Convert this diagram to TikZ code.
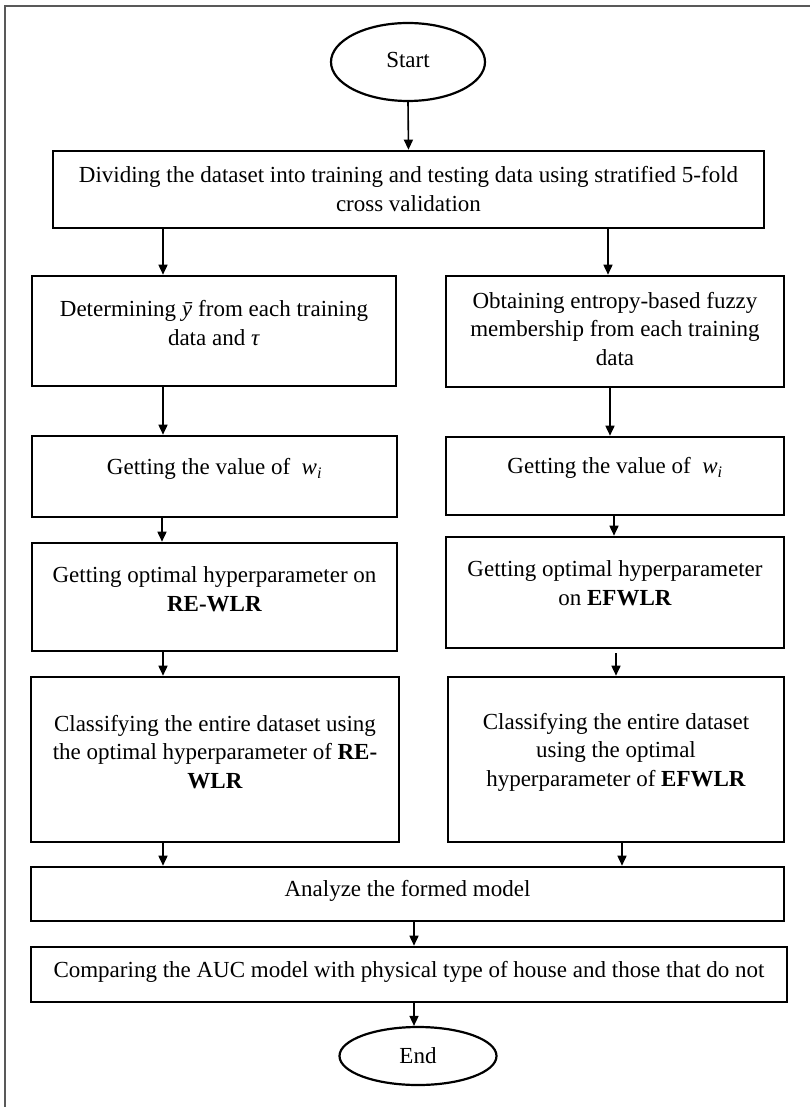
\documentclass[tikz,border=0pt]{standalone}
\usepackage{fontspec}
\setmainfont{Liberation Serif}
\usetikzlibrary{arrows.meta,shapes.geometric}
\tikzset{
  box/.style={draw=black, line width=2.6pt, inner sep=0pt},
  oval/.style={draw=black, ellipse, line width=2.2pt, inner sep=0pt},
  txt/.style={align=center, inner sep=0pt, font=\fontsize{23}{28.5}\selectfont},
  arr/.style={line width=1.6pt, -{Triangle[length=10pt,width=9pt]}},
  frameline/.style={draw=black!65, line width=1.6pt}
}
\newcommand{\ybar}{\textit{ȳ}}
\newcommand{\wi}{\textit{w}\textsubscript{\textit{i}}}
\begin{document}
\begin{tikzpicture}[x=1pt,y=-1pt]
\useasboundingbox (0,0) rectangle (810,1107);
\fill[white] (0,0) rectangle (810,1107);
\draw[frameline] (810,6) -- (5,6) -- (5,1107);

% Start / End
\node[oval, minimum width=154pt, minimum height=78pt] (start) at (408,62) {};
\node[txt] (startt) at (408,60) {Start};
\node[oval, minimum width=157pt, minimum height=58pt] (end) at (418,1056) {};
\node[txt] (endt) at (418,1056) {End};

% Box 1
\node[box, minimum width=711pt, minimum height=77pt] (b1) at (408.5,189.5) {};
\node[txt] (b1t) at (408.5,189) {Dividing the dataset into training and testing data using stratified 5-fold\\cross validation};

% Left column
\node[box, minimum width=364pt, minimum height=110pt] (l1) at (214,331) {};
\node[txt] (l1t) at (214,323) {Determining \ybar\ from each training\\data and \textit{τ}};
\node[box, minimum width=365pt, minimum height=81pt] (l2) at (214.5,476.5) {};
\node[txt] (l2t) at (214.5,469) {Getting the value of ~\wi};
\node[box, minimum width=365pt, minimum height=108pt] (l3) at (214.5,597) {};
\node[txt] (l3t) at (214.5,589) {Getting optimal hyperparameter on\\\textbf{RE-WLR}};
\node[box, minimum width=368pt, minimum height=165pt] (l4) at (215,759.5) {};
\node[txt] (l4t) at (215,752) {Classifying the entire dataset using\\the optimal hyperparameter of \textbf{RE-}\\\textbf{WLR}};

% Right column
\node[box, minimum width=338pt, minimum height=111pt] (r1) at (615,331.5) {};
\node[txt] (r1t) at (615,329) {Obtaining entropy-based fuzzy\\membership from each training\\data};
\node[box, minimum width=338pt, minimum height=78pt] (r2) at (615,476) {};
\node[txt] (r2t) at (615,468) {Getting the value of ~\wi};
\node[box, minimum width=338pt, minimum height=111pt] (r3) at (615,592.5) {};
\node[txt] (r3t) at (615,583) {Getting optimal hyperparameter\\on \textbf{EFWLR}};
\node[box, minimum width=336pt, minimum height=165pt] (r4) at (616,759.5) {};
\node[txt] (r4t) at (616,752) {Classifying the entire dataset\\using the optimal\\hyperparameter of \textbf{EFWLR}};

% Bottom boxes
\node[box, minimum width=753pt, minimum height=54pt] (b6) at (407.5,894) {};
\node[txt] (b6t) at (407.5,891) {Analyze the formed model};
\node[box, minimum width=756pt, minimum height=55pt] (b7) at (409,974.5) {};
\node[txt] (b7t) at (409,972) {Comparing the AUC model with physical type of house and those that do not};

% Connectors
\draw[arr] (start.south) -- (b1.north);
\draw[arr] (b1.south -| 163,0) -- (l1.north -| 163,0);
\draw[arr] (b1.south -| 608,0) -- (r1.north -| 608,0);
\draw[arr] (l1.south -| 163,0) -- (l2.north -| 163,0);
\draw[arr] (r1.south -| 610,0) -- (r2.north -| 610,0);
\draw[arr] (l2.south -| 162,0) -- (l3.north -| 162,0);
\draw[arr] (r2.south -| 614,0) -- (r3.north -| 614,0);
\draw[arr] (l3.south -| 163,0) -- (l4.north -| 163,0);
\draw[arr] (r3.south -| 616,0) ++(0,4) -- (r4.north -| 616,0);
\draw[arr] (l4.south -| 163,0) -- (b6.north -| 163,0);
\draw[arr] (r4.south -| 622,0) -- (b6.north -| 622,0);
\draw[arr] (b6.south -| 414,0) -- (b7.north -| 414,0);
\draw[arr] (b7.south -| 414,0) -- (end.north -| 414,0);
\end{tikzpicture}
\end{document}
